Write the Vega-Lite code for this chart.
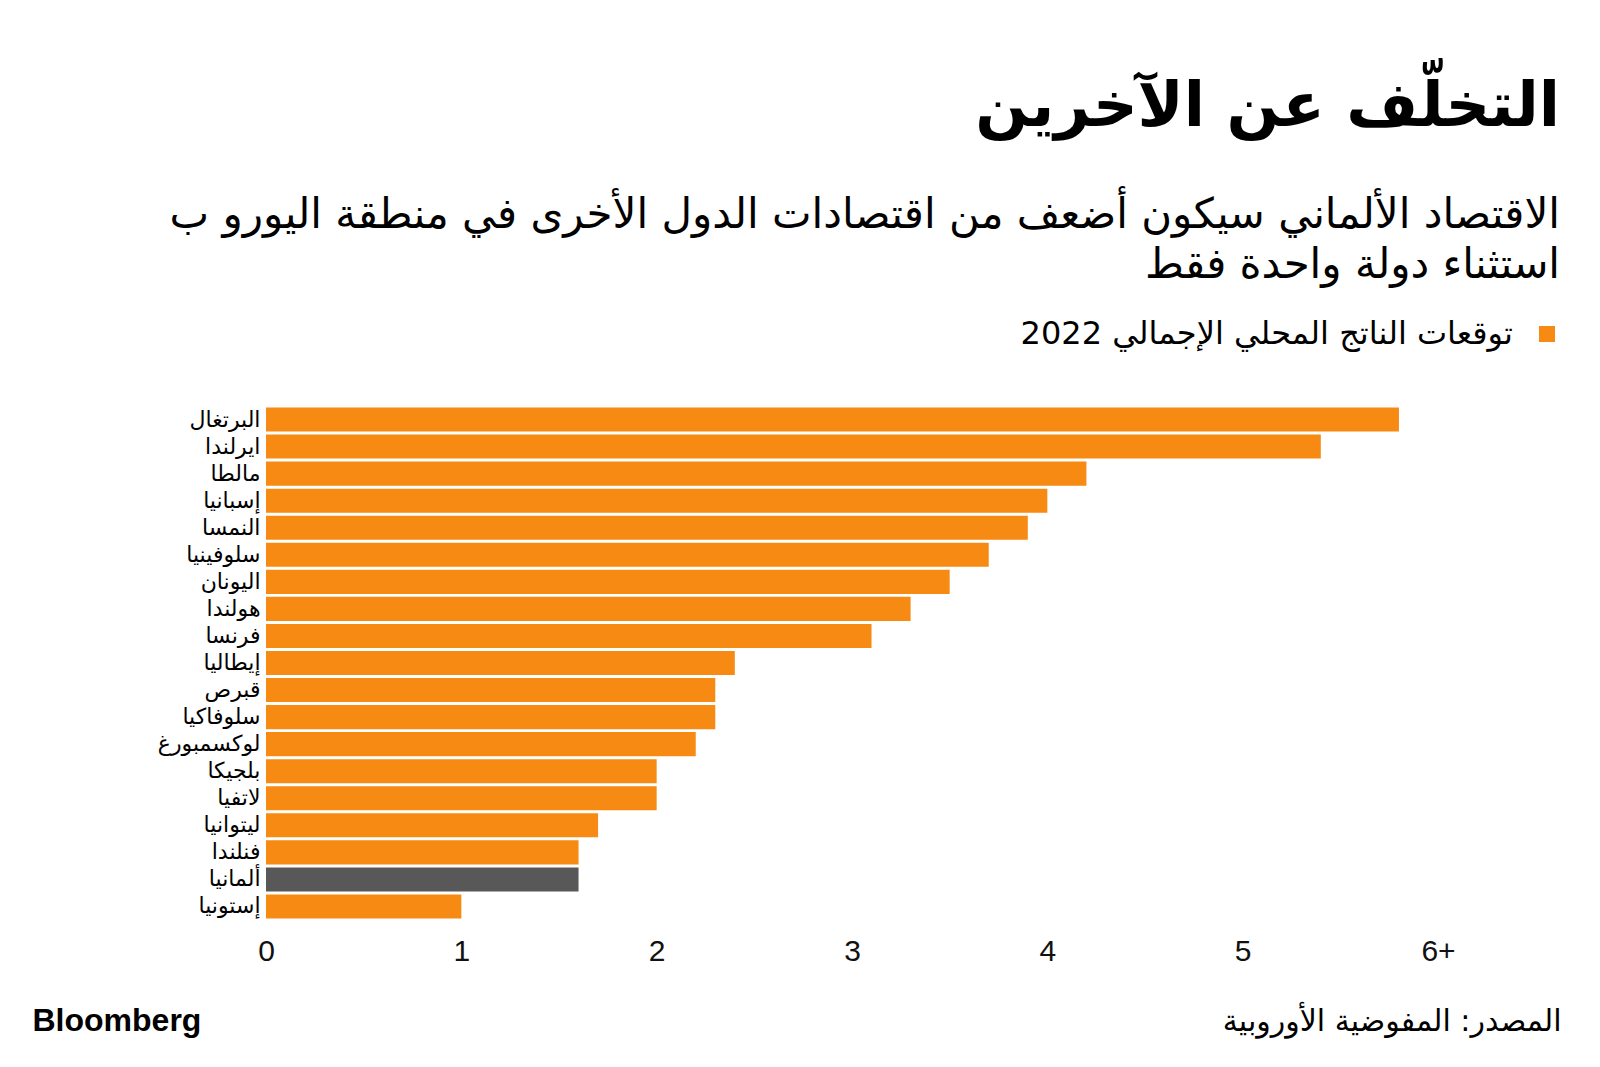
{
  "$schema": "https://vega.github.io/schema/vega-lite/v6.json",
  "width": 1172,
  "height": 514,
  "autosize": {"type": "none"},
  "padding": {"left": 266, "top": 406, "right": 162, "bottom": 147},
  "background": "white",
  "config": {"view": {"stroke": null}, "font": "DejaVu Sans"},
  "title": {
    "text": "التخلّف عن الآخرين",
    "subtitle": ["الاقتصاد الألماني سيكون أضعف من اقتصادات الدول الأخرى في منطقة اليورو ب", "استثناء دولة واحدة فقط"],
    "anchor": "end",
    "align": "right",
    "frame": "group",
    "dx": 122,
    "offset": 31,
    "font": "DejaVu Sans",
    "fontSize": 62,
    "fontWeight": "bold",
    "color": "#000000",
    "subtitleFont": "DejaVu Sans",
    "subtitleFontSize": 42,
    "subtitleColor": "#000000",
    "subtitleLineHeight": 50,
    "subtitlePadding": 56
  },
  "data": {
    "values": [
      {"country": "البرتغال", "gdp": 5.8, "series": "توقعات الناتج المحلي الإجمالي 2022"},
      {"country": "ايرلندا", "gdp": 5.4, "series": "توقعات الناتج المحلي الإجمالي 2022"},
      {"country": "مالطا", "gdp": 4.2, "series": "توقعات الناتج المحلي الإجمالي 2022"},
      {"country": "إسبانيا", "gdp": 4.0, "series": "توقعات الناتج المحلي الإجمالي 2022"},
      {"country": "النمسا", "gdp": 3.9, "series": "توقعات الناتج المحلي الإجمالي 2022"},
      {"country": "سلوفينيا", "gdp": 3.7, "series": "توقعات الناتج المحلي الإجمالي 2022"},
      {"country": "اليونان", "gdp": 3.5, "series": "توقعات الناتج المحلي الإجمالي 2022"},
      {"country": "هولندا", "gdp": 3.3, "series": "توقعات الناتج المحلي الإجمالي 2022"},
      {"country": "فرنسا", "gdp": 3.1, "series": "توقعات الناتج المحلي الإجمالي 2022"},
      {"country": "إيطاليا", "gdp": 2.4, "series": "توقعات الناتج المحلي الإجمالي 2022"},
      {"country": "قبرص", "gdp": 2.3, "series": "توقعات الناتج المحلي الإجمالي 2022"},
      {"country": "سلوفاكيا", "gdp": 2.3, "series": "توقعات الناتج المحلي الإجمالي 2022"},
      {"country": "لوكسمبورغ", "gdp": 2.2, "series": "توقعات الناتج المحلي الإجمالي 2022"},
      {"country": "بلجيكا", "gdp": 2.0, "series": "توقعات الناتج المحلي الإجمالي 2022"},
      {"country": "لاتفيا", "gdp": 2.0, "series": "توقعات الناتج المحلي الإجمالي 2022"},
      {"country": "ليتوانيا", "gdp": 1.7, "series": "توقعات الناتج المحلي الإجمالي 2022"},
      {"country": "فنلندا", "gdp": 1.6, "series": "توقعات الناتج المحلي الإجمالي 2022"},
      {"country": "ألمانيا", "gdp": 1.6, "series": "ألمانيا"},
      {"country": "إستونيا", "gdp": 1.0, "series": "توقعات الناتج المحلي الإجمالي 2022"}
    ]
  },
  "mark": {"type": "bar"},
  "encoding": {
    "y": {
      "field": "country",
      "type": "nominal",
      "sort": null,
      "scale": {"paddingInner": 0.11, "paddingOuter": 0.055},
      "axis": {
        "domain": false,
        "ticks": false,
        "labelFont": "DejaVu Sans",
        "labelFontSize": 22,
        "labelColor": "#000000",
        "labelPadding": 6,
        "title": "Bloomberg",
        "titleAngle": 0,
        "titleX": -234,
        "titleY": 624,
        "titleAlign": "left",
        "titleBaseline": "alphabetic",
        "titleFont": "Liberation Sans",
        "titleFontSize": 32,
        "titleFontWeight": "bold",
        "titleColor": "#000000"
      }
    },
    "x": {
      "field": "gdp",
      "type": "quantitative",
      "stack": null,
      "scale": {"domain": [0, 6], "nice": false},
      "axis": {
        "values": [0, 1, 2, 3, 4, 5, 6],
        "labelExpr": "datum.value == 6 ? '6+' : datum.label",
        "domain": false,
        "ticks": false,
        "grid": false,
        "labelFont": "Liberation Sans",
        "labelFontSize": 30,
        "labelColor": "#111111",
        "labelPadding": 16,
        "labelFlush": false,
        "title": "المصدر: المفوضية الأوروبية",
        "titleFont": "DejaVu Sans",
        "titleFontSize": 30,
        "titleFontWeight": "normal",
        "titleColor": "#000000",
        "titleAnchor": "end",
        "titleAlign": "right",
        "titleBaseline": "alphabetic",
        "titleX": 1295,
        "titleY": 110
      }
    },
    "color": {
      "field": "series",
      "type": "nominal",
      "scale": {"domain": ["توقعات الناتج المحلي الإجمالي 2022", "ألمانيا"], "range": ["#F78A12", "#585858"]},
      "legend": {
        "values": ["توقعات الناتج المحلي الإجمالي 2022"],
        "title": null,
        "orient": "none",
        "legendX": 1265,
        "legendY": -88,
        "symbolType": "square",
        "symbolSize": 256,
        "symbolStrokeWidth": 0,
        "symbolOpacity": 1,
        "labelAlign": "right",
        "labelOffset": -50,
        "labelFont": "DejaVu Sans",
        "labelFontSize": 32,
        "labelColor": "#000000",
        "labelLimit": 0
      }
    }
  }
}
